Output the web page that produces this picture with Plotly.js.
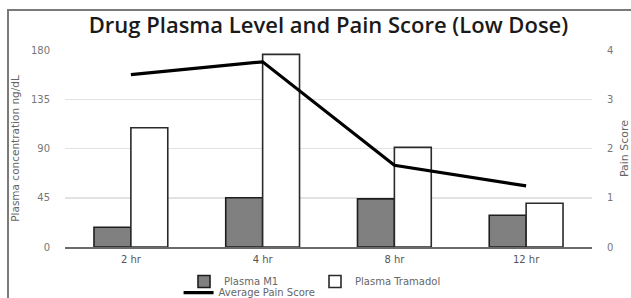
<!DOCTYPE html>
<html>
<head>
<meta charset="utf-8">
<script src="https://cdn.plot.ly/plotly-3.0.1.min.js"></script>
<style>
  html, body { margin: 0; padding: 0; background: #fff; }
  #wrap { position: relative; width: 631px; height: 298px; overflow: hidden; }
  #chart { width: 631px; height: 298px; }
  #frame { position: absolute; left: 7px; top: 9px; width: 700px; height: 400px;
           border-left: 2px solid #7a7a7a; border-top: 2px solid #7a7a7a; pointer-events: none; }
</style>
</head>
<body>
<div id="wrap">
  <div id="chart"></div>
  <div id="frame"></div>
</div>
<script>
const categories = ["2 hr", "4 hr", "8 hr", "12 hr"];
const plasmaM1 = [18, 45, 44, 29];
const plasmaTramadol = [109, 176, 91, 40];
const painScore = [3.5, 3.76, 1.66, 1.24];
const leftTicks = [0, 45, 90, 135, 180];
const rightTicks = [0, 1, 2, 3, 4];

const traces = [
  {
    type: "bar", name: "Plasma M1", x: categories, y: plasmaM1,
    marker: { color: "#808080", line: { color: "#1e1e1e", width: 1.6 } },
    legend: "legend"
  },
  {
    type: "bar", name: "Plasma Tramadol", x: categories, y: plasmaTramadol,
    marker: { color: "#ffffff", line: { color: "#2a2a2a", width: 1.6 } },
    legend: "legend"
  },
  {
    type: "scatter", mode: "lines", name: "Average Pain Score", x: categories, y: painScore,
    yaxis: "y2", line: { color: "#000000", width: 3.2 },
    legend: "legend2"
  }
];

const layout = {
  width: 631, height: 298,
  margin: { l: 65, r: 39, t: 50, b: 51, autoexpand: false },
  paper_bgcolor: "#ffffff", plot_bgcolor: "#ffffff",
  font: { family: "DejaVu Sans", size: 10, color: "#666" },
  title: {
    text: "Drug Plasma Level and Pain Score (Low Dose)",
    font: { family: "Open Sans", size: 22, color: "#1a1a1a", weight: 600 },
    x: 0.5, xref: "paper", xanchor: "center",
    y: 25, yref: "container", yanchor: "middle"
  },
  barmode: "group", bargap: 0.44, bargroupgap: 0,
  xaxis: {
    type: "category", showgrid: false, zeroline: false, automargin: false,
    showline: true, linecolor: "#6a6a6a", linewidth: 2,
    ticks: "", tickfont: { size: 10, color: "#555" }, ticklabelstandoff: 2
  },
  yaxis: {
    range: [0, 180], tickvals: leftTicks, ticktext: leftTicks.map(String),
    showgrid: true, gridcolor: "#e2e2e2", gridwidth: 1.5, zeroline: false, automargin: false,
    showline: false, ticks: "", ticklabelstandoff: 14,
    tickfont: { size: 10, color: "#777" },
    title: { text: "Plasma concentration ng/dL", font: { size: 10.5, color: "#666" }, standoff: 9 }
  },
  yaxis2: {
    range: [0, 4], tickvals: rightTicks, ticktext: rightTicks.map(String),
    overlaying: "y", side: "right", showgrid: false, zeroline: false, automargin: false,
    showline: false, ticks: "", ticklabelstandoff: 14,
    tickfont: { size: 10, color: "#777" },
    title: { text: "Pain Score", font: { size: 11, color: "#666" }, standoff: 8 }
  },
  legend: {
    orientation: "h", xref: "container", yref: "container",
    x: 0.2916, xanchor: "left", y: 0.104, yanchor: "top",
    font: { size: 10, color: "#666" }, entrywidth: 86, entrywidthmode: "pixels",
    bgcolor: "rgba(0,0,0,0)", itemwidth: 30, traceorder: "normal"
  },
  legend2: {
    orientation: "h", xref: "container", yref: "container",
    x: 0.283, xanchor: "left", y: 0.067, yanchor: "top",
    font: { size: 10, color: "#666" },
    bgcolor: "rgba(0,0,0,0)", itemwidth: 30
  },
  showlegend: true
};

Plotly.newPlot("chart", traces, layout, { displayModeBar: false, staticPlot: true });
</script>
</body>
</html>
